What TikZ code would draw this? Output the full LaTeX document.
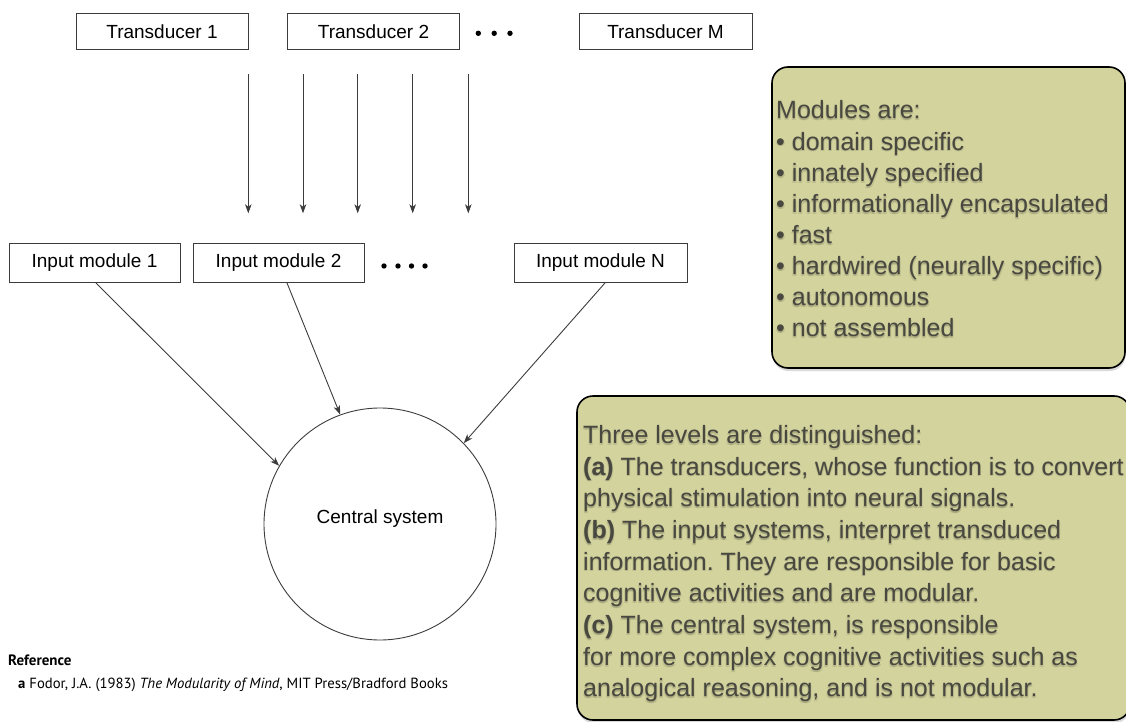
\documentclass[tikz,border=0pt]{standalone}
\usepackage{fontspec}
\setmainfont{Liberation Sans}
\newfontfamily\reffont{PT Sans}
\usetikzlibrary{arrows.meta,shadows}
\definecolor{boxfill}{RGB}{211,211,158}
\definecolor{boxtext}{RGB}{72,72,64}
\definecolor{linegray}{RGB}{60,60,60}
\frenchspacing

% one line of note text with a soft dark halo behind it
\newcommand\noteline[4]{%
  \node[haloline] (#1h1) at (#2+0.9,#3+1.8) {#4};
  \node[haloline] (#1h2) at (#2-0.9,#3+1.8) {#4};
  \node[haloline] (#1h3) at (#2,#3+0.6) {#4};
  \node[noteline] (#1) at (#2,#3) {#4};}

\begin{document}
\begin{tikzpicture}[x=1pt,y=-1pt,
  unitbox/.style={draw=linegray, line width=0.9pt, inner sep=0pt,
    minimum width=172pt, font=\fontsize{19}{22}\selectfont},
  feed/.style={draw=linegray, line width=0.9pt,
    -{Stealth[length=9pt,width=6.5pt,inset=2.5pt]}},
  dot/.style={fill=black},
  notebox/.style={draw=black, line width=1.6pt, fill=boxfill,
    rounded corners=16pt, inner sep=0pt,
    drop shadow={shadow xshift=0.6pt, shadow yshift=-3pt, opacity=0.3}},
  noteline/.style={anchor=base west, inner sep=0pt, text=boxtext,
    font=\fontsize{25}{29}\selectfont},
  haloline/.style={noteline, text=black, text opacity=0.09},
]
\useasboundingbox (0,0) rectangle (1126,722);
\clip (0,0) rectangle (1126,722);

% transducers
\node[unitbox, minimum height=36pt] (t1) at (162,31.3) {Transducer 1};
\node[unitbox, minimum height=36pt] (t2) at (373.5,31.3) {Transducer 2};
\node[unitbox, minimum height=36pt, minimum width=173pt] (tm) at (665.5,31.3) {Transducer M};
\foreach \x in {478.3,494.2,510} \fill[dot] (\x,33.3) circle (2.7);

% signals passed down to the input modules
\foreach \x [count=\i] in {248.3,303,357.7,412.7,468.3} {
  \coordinate (s\i) at (\x,74);
  \coordinate (e\i) at (\x,213.3);
  \draw[feed] (s\i) -- (e\i);
}

% input modules
\node[unitbox, minimum height=39pt, minimum width=171pt] (m1) at (94.5,263) {Input module 1};
\node[unitbox, minimum height=39pt, minimum width=171pt] (m2) at (278.5,263) {Input module 2};
\node[unitbox, minimum height=39pt, minimum width=173pt] (mn) at (600.5,263) {Input module N};
\foreach \x in {384,398,411.5,425} \fill[dot] (\x,266) circle (2.7);

% central system
\node[circle, draw=linegray, line width=0.9pt, minimum size=232pt, inner sep=0pt] (cs) at (380,524) {};
\node[anchor=base, inner sep=0pt, font=\fontsize{19}{22}\selectfont] (csl) at (380,523.5) {Central system};

\draw[feed] ([xshift=1.5pt]m1.south) -- (cs.150);
\draw[feed] ([xshift=8.5pt]m2.south) -- (cs.110.4);
\draw[feed] ([xshift=4.5pt]mn.south) -- (cs.44.6);

% citation
\node[anchor=base west, inner sep=0pt, font=\reffont\bfseries\fontsize{15}{18}\selectfont] (refh) at (8,665) {Reference};
\node[anchor=base west, inner sep=0pt, font=\reffont\fontsize{14.7}{18}\selectfont] (refa) at (18,688.6)
  {\textbf{a} Fodor, J.A. (1983) \textit{The Modularity of Mind}, MIT Press/Bradford Books};

% note boxes
\node[notebox, minimum width=353pt, minimum height=301pt] (nb1) at (948.5,217.5) {};
\node[notebox, minimum width=553pt, minimum height=324pt] (nb2) at (853.5,558) {};

\noteline{p0}{776}{119}{Modules are:}
\foreach \t [count=\k] in {domain specific,innately specified,informationally encapsulated,fast,hardwired (neurally specific),autonomous,not assembled} {
  \noteline{p\k}{776}{119+31.1*\k}{• \t}
}

\noteline{q0}{583}{443.3}{Three levels are distinguished:}
\noteline{q1}{583}{475}{\textbf{(a)} The transducers, whose function is to convert}
\noteline{q2}{583}{506.7}{physical stimulation into neural signals.}
\noteline{q3}{583}{538.4}{\textbf{(b)} The input systems, interpret transduced}
\noteline{q4}{583}{570.1}{information. They are responsible for basic}
\noteline{q5}{583}{601.8}{cognitive activities and are modular.}
\noteline{q6}{583}{633.5}{\textbf{(c)} The central system, is responsible}
\noteline{q7}{583}{665.2}{for more complex cognitive activities such as}
\noteline{q8}{583}{696.9}{analogical reasoning, and is not modular.}
\end{tikzpicture}
\end{document}
